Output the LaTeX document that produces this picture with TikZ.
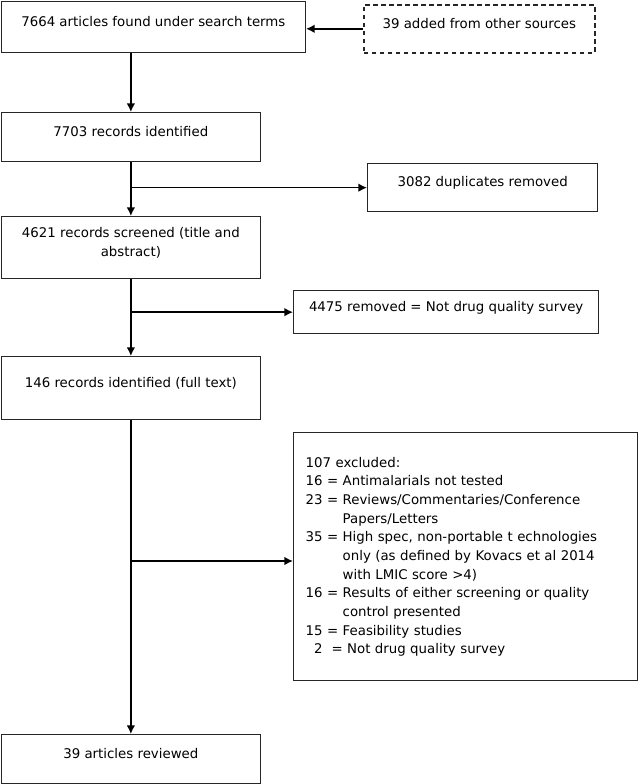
\documentclass[tikz,border=0pt]{standalone}
\usepackage{fontspec}
\setmainfont{DejaVu Sans}
\usepackage{tikz}
\usetikzlibrary{positioning, arrows.meta}
\tikzset{%
  every node/.style={
    font=\fontsize{10pt}{14pt}\selectfont
  },
  stage/.style={
    rectangle,
    draw=black!85,
    line width=1pt,
    anchor=north west,
    inner sep=0pt,
    align=center,
    minimum width=194.25pt,
    minimum height=36.75pt,
    text height=7.5pt,
    text depth=8.5pt
  },
  stage extra/.style={
    stage,
    dash pattern=on 3.5pt off 2.5pt,
    line width=1.2pt
  },
  stage excluded/.style={
    rectangle,
    draw=black!85,
    line width=1pt,
    anchor=north west,
    inner xsep=9pt,
    inner ysep=0pt,
    text width=240pt,
    align=left,
    minimum width=258pt,
    minimum height=186pt
  },
  flow/.style={
    ->,
    line width=1.2pt
  },
}

\begin{document}
\begin{tikzpicture}[x=0.75pt, y=-0.75pt, >={Latex[length=6.5pt, width=6.5pt]}]
        \useasboundingbox (0,0) rectangle (638,784);

        %%%%%%%%%%%%%%%%%%%%%%%%%%%%%%%%%%%%%%%%%%%%
        % Main column
        %%%%%%%%%%%%%%%%%%%%%%%%%%%%%%%%%%%%%%%%%%%%
        \node [stage, minimum width=228pt, minimum height=38.25pt] (search) at (0.7,0.7)
            {7664 articles found under search terms};
        \node [stage] (identified) at (0.7,112) {7703 records identified};
        \node [stage, minimum height=46.5pt, text height=21.5pt] (screened) at (0.7,216)
            {4621 records screened (title and\\abstract)};
        \node [stage, minimum height=47.25pt] (fulltext) at (0.7,356)
            {146 records identified (full text)};
        \node [stage] (reviewed) at (0.7,734) {39 articles reviewed};

        %%%%%%%%%%%%%%%%%%%%%%%%%%%%%%%%%%%%%%%%%%%%
        % Side boxes
        %%%%%%%%%%%%%%%%%%%%%%%%%%%%%%%%%%%%%%%%%%%%
        \node [stage extra, minimum width=173.25pt, minimum height=36pt] (other) at (363,4)
            {39 added from other sources};
        \node [stage, minimum width=172.5pt, minimum height=36pt] (duplicates) at (367,163)
            {3082 duplicates removed};
        \node [stage, minimum width=228.75pt, minimum height=32.25pt] (notsurvey) at (293,290)
            {4475 removed = Not drug quality survey};
        \node [stage excluded, minimum width=257pt] (excluded) at (293,432) {%
            107 excluded:\\
            16 = Antimalarials not tested\\
            23 =\ Reviews/Commentaries/Conference\\
            \hphantom{23 = }Papers/Letters\\
            35 = High spec, non-portable t echnologies\\
            \hphantom{35 = }only (as defined by Kovacs et al 2014\\
            \hphantom{35 = }with LMIC score >4)\\
            16 = Results of either screening or quality\\
            \hphantom{16 = }control presented\\
            15 = Feasibility studies\\
            \hphantom{0}2 \ = Not drug quality survey};

        %%%%%%%%%%%%%%%%%%%%%%%%%%%%%%%%%%%%%%%%%%%%
        % Connecting
        %%%%%%%%%%%%%%%%%%%%%%%%%%%%%%%%%%%%%%%%%%%%
        \draw [flow] (other.west) -- (other.west -| search.east);
        \draw [flow] (identified.north |- search.south) -- (identified);
        \draw [flow] (identified) -- (screened);
        \draw [flow] (screened) -- (fulltext);
        \draw [flow] (fulltext) -- (reviewed);

        % Branches to the removed records
        \coordinate (branch-3) at (130,561);
        \draw [flow] (identified.south |- duplicates.west) -- (duplicates.west);
        \draw [flow] (screened.south |- notsurvey.west) -- (notsurvey.west);
        \draw [flow] (branch-3) -- (branch-3 -| excluded.west);
    \end{tikzpicture}
\end{document}
